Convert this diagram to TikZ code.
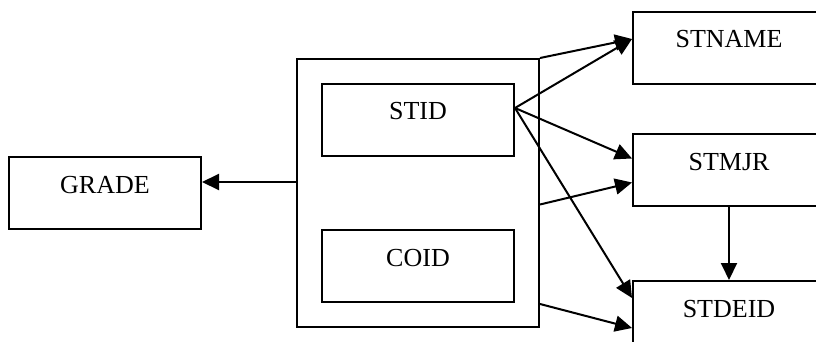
\documentclass[tikz,border=0pt]{standalone}
\usepackage{fontspec}
\setmainfont{Liberation Serif}
\usepackage{tikz}
\usetikzlibrary{arrows.meta, positioning, fit}

\begin{document}
\begin{tikzpicture}[
    x=1pt, y=-1pt,
    box/.style={rectangle, draw, line width=2pt, minimum width=192pt, minimum height=72pt,
                text height=17pt, text depth=17pt, inner sep=0pt,
                font=\fontsize{26}{30}\selectfont},
    keybox/.style={rectangle, draw, line width=2pt, inner sep=24pt},
    arrow/.style={-{Triangle[length=17pt, width=16pt]}, line width=2pt}
]
\useasboundingbox (0,0) rectangle (816,342);
\clip (0,0) rectangle (816,342);

% composite key
\node[box] (stid) at (418,120) {STID};
\node[box, below=72pt of stid] (coid) {COID};
\node[keybox, fit=(stid)(coid)] (key) {};

\node[box, left=94pt of key] (grade) {GRADE};

% student attributes
\node[box] (stname) at (729,48) {STNAME};
\node[box, below=48pt of stname] (stmjr) {STMJR};
\node[box, below=73pt of stmjr] (stdeid) {STDEID};

\draw[arrow] ([yshift=11pt]key.west) -- ([yshift=11pt]grade.east);
\draw[arrow] (key.north east) -- ([yshift=9pt]stname.west);
\draw[arrow] ([yshift=12pt]stid.east) -- ([yshift=9pt]stname.west);
\draw[arrow] ([yshift=12pt]stid.east) -- ([yshift=11.5pt]stmjr.west);
\draw[arrow] ([yshift=12pt]stid.east) -- ([yshift=19pt]stdeid.west);
\draw[arrow] ([yshift=-11.5pt]key.east) -- ([yshift=-12.5pt]stmjr.west);
\draw[arrow] ([yshift=24pt]key.south east) -- ([yshift=-11pt]stdeid.west);
\draw[arrow] (stmjr.south) -- (stdeid.north);

\end{tikzpicture}
\end{document}
